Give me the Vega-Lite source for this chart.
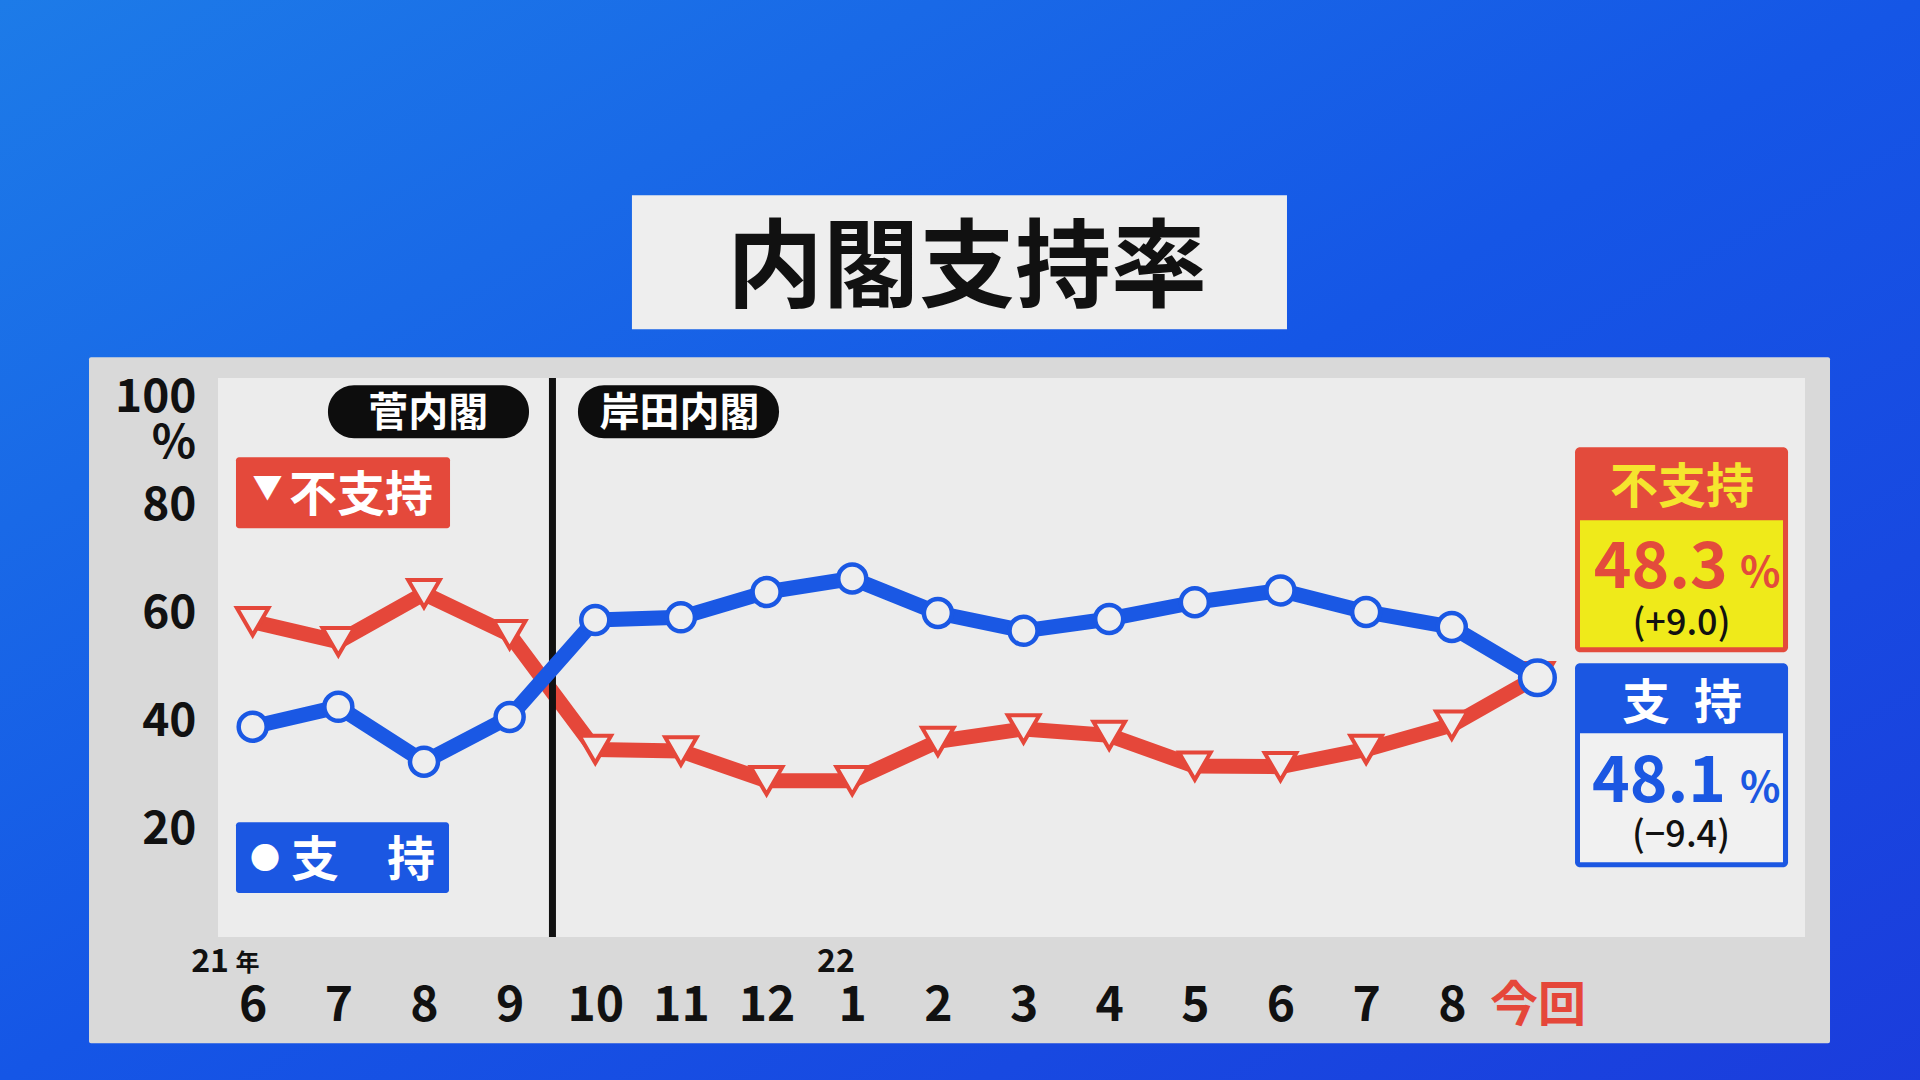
{
  "$schema": "https://vega.github.io/schema/vega-lite/v6.json",
  "width": 1587,
  "height": 559,
  "autosize": "none",
  "padding": {"left": 218, "top": 378, "right": 115, "bottom": 143},
  "background": "#1656e4",
  "config": {
    "font": "Noto Sans CJK JP",
    "view": {"stroke": null},
    "axis": {
      "grid": false,
      "domain": false,
      "ticks": false,
      "tickSize": 0,
      "labelFont": "Noto Sans CJK JP",
      "labelFontWeight": "bold",
      "labelColor": "#111111",
      "labelOverlap": false,
      "labelFlush": false,
      "labelBound": false
    },
    "text": {"font": "Noto Sans CJK JP", "fontWeight": "bold"}
  },
  "datasets": {
    "polls": [
      {"m": 0, "month": "6", "approve": 39.0, "disapprove": 58.5},
      {"m": 1, "month": "7", "approve": 42.7, "disapprove": 54.8},
      {"m": 2, "month": "8", "approve": 32.5, "disapprove": 63.7},
      {"m": 3, "month": "9", "approve": 40.8, "disapprove": 56.1},
      {"m": 4, "month": "10", "approve": 58.8, "disapprove": 34.8},
      {"m": 5, "month": "11", "approve": 59.3, "disapprove": 34.5},
      {"m": 6, "month": "12", "approve": 64.0, "disapprove": 29.0},
      {"m": 7, "month": "1", "approve": 66.5, "disapprove": 29.0},
      {"m": 8, "month": "2", "approve": 60.1, "disapprove": 36.3},
      {"m": 9, "month": "3", "approve": 56.8, "disapprove": 38.6},
      {"m": 10, "month": "4", "approve": 59.0, "disapprove": 37.4},
      {"m": 11, "month": "5", "approve": 62.1, "disapprove": 31.7},
      {"m": 12, "month": "6", "approve": 64.3, "disapprove": 31.6},
      {"m": 13, "month": "7", "approve": 60.3, "disapprove": 34.8},
      {"m": 14, "month": "8", "approve": 57.5, "disapprove": 39.3},
      {"m": 15, "month": "今回", "approve": 48.1, "disapprove": 48.3}
    ]
  },
  "layer": [
    {
      "data": {"name": "polls"},
      "mark": {"type": "line", "color": "#e5473a", "strokeWidth": 15, "opacity": 0},
      "encoding": {
        "x": {
          "field": "m",
          "type": "quantitative",
          "title": null,
          "scale": {"domain": [-0.405, 18.124], "nice": false, "zero": false},
          "axis": {
            "title": null,
            "zindex": 2,
            "values": [0, 1, 2, 3, 4, 5, 6, 7, 8, 9, 10, 11, 12, 13, 14, 15],
            "labelExpr": "['6','7','8','9','10','11','12','1','2','3','4','5','6','7','8','今回'][datum.value]",
            "labelFontSize": 48,
            "labelBaseline": "alphabetic",
            "labelPadding": 83,
            "labelColor": {"condition": {"test": "datum.value == 15", "value": "#e5473a"}, "value": "#111111"}
          }
        },
        "y": {
          "field": "disapprove",
          "type": "quantitative",
          "title": null,
          "scale": {"domain": [0, 103.7], "nice": false, "zero": false},
          "axis": {
            "title": null,
            "zindex": 2,
            "values": [20, 40, 60, 80, 100],
            "labelFontSize": 46,
            "labelBaseline": "middle",
            "labelPadding": 22
          }
        }
      }
    },
    {
      "data": {"values": [{}]},
      "mark": {
        "type": "rect",
        "color": {
          "gradient": "linear", "x1": 0, "y1": 0, "x2": 1, "y2": 1,
          "stops": [
            {"offset": 0, "color": "#1d7ce8"},
            {"offset": 0.5, "color": "#1556e6"},
            {"offset": 1, "color": "#1b3cdc"}
          ]
        }
      },
      "encoding": {
        "x": {"datum": -3.2, "type": "quantitative"},
        "x2": {"datum": 19.7},
        "y": {"datum": 176, "type": "quantitative"},
        "y2": {"datum": -29}
      }
    },
    {
      "data": {"values": [{}]},
      "mark": {"type": "rect", "color": "#d9d9d9", "cornerRadius": 2},
      "encoding": {
        "x": {"datum": -1.911},
        "x2": {"datum": 18.416},
        "y": {"datum": 107.57},
        "y2": {"datum": -19.7}
      }
    },
    {
      "data": {"values": [{}]},
      "mark": {"type": "rect", "color": "#ececec"},
      "encoding": {
        "x": {"datum": -0.405},
        "x2": {"datum": 18.124},
        "y": {"datum": 103.7},
        "y2": {"datum": 0}
      }
    },
    {
      "data": {"values": [{}]},
      "mark": {"type": "rect", "color": "#eeeeee"},
      "encoding": {
        "x": {"datum": 4.428},
        "x2": {"datum": 12.076},
        "y": {"datum": 137.62},
        "y2": {"datum": 112.76}
      }
    },
    {
      "data": {"values": [{"t": "内閣支持率"}]},
      "mark": {"type": "text", "fontSize": 96, "color": "#111111", "align": "center", "baseline": "middle"},
      "encoding": {
        "x": {"datum": 8.34},
        "y": {"datum": 123.69},
        "text": {"field": "t"}
      }
    },
    {
      "data": {"values": [{}]},
      "mark": {"type": "rect", "color": "#0d0d0d", "cornerRadius": 26},
      "encoding": {
        "x": {"datum": 0.879},
        "x2": {"datum": 3.226},
        "y": {"datum": 102.37},
        "y2": {"datum": 92.54}
      }
    },
    {
      "data": {"values": [{}]},
      "mark": {"type": "rect", "color": "#0d0d0d", "cornerRadius": 26},
      "encoding": {
        "x": {"datum": 3.798},
        "x2": {"datum": 6.145},
        "y": {"datum": 102.37},
        "y2": {"datum": 92.54}
      }
    },
    {
      "data": {"values": [{"t": "菅内閣"}]},
      "mark": {"type": "text", "fontSize": 40, "color": "#ffffff", "align": "center", "baseline": "middle"},
      "encoding": {
        "x": {"datum": 2.05},
        "y": {"datum": 96.96},
        "text": {"field": "t"}
      }
    },
    {
      "data": {"values": [{"t": "岸田内閣"}]},
      "mark": {"type": "text", "fontSize": 40, "color": "#ffffff", "align": "center", "baseline": "middle"},
      "encoding": {
        "x": {"datum": 4.983},
        "y": {"datum": 96.96},
        "text": {"field": "t"}
      }
    },
    {
      "data": {"values": [{}]},
      "mark": {"type": "rect", "color": "#e4493b", "cornerRadius": 3},
      "encoding": {
        "x": {"datum": -0.195},
        "x2": {"datum": 2.304},
        "y": {"datum": 89.02},
        "y2": {"datum": 75.84}
      }
    },
    {
      "data": {"values": [{"t": "▼"}]},
      "mark": {"type": "text", "fontSize": 30, "color": "#ffffff", "align": "center", "baseline": "middle"},
      "encoding": {
        "x": {"datum": 0.172},
        "y": {"datum": 83.2},
        "text": {"field": "t"}
      }
    },
    {
      "data": {"values": [{"t": "不支持"}]},
      "mark": {"type": "text", "fontSize": 48, "color": "#ffffff", "align": "center", "baseline": "middle"},
      "encoding": {
        "x": {"datum": 1.265},
        "y": {"datum": 81.63},
        "text": {"field": "t"}
      }
    },
    {
      "data": {"values": [{}]},
      "mark": {"type": "rect", "color": "#1b57e2", "cornerRadius": 3},
      "encoding": {
        "x": {"datum": -0.195},
        "x2": {"datum": 2.292},
        "y": {"datum": 21.3},
        "y2": {"datum": 8.15}
      }
    },
    {
      "data": {"values": [{"t": "●"}]},
      "mark": {"type": "text", "fontSize": 30, "color": "#ffffff", "align": "center", "baseline": "middle"},
      "encoding": {
        "x": {"datum": 0.144},
        "y": {"datum": 14.3},
        "text": {"field": "t"}
      }
    },
    {
      "data": {"values": [{"t": "支　持"}]},
      "mark": {"type": "text", "fontSize": 48, "color": "#ffffff", "align": "center", "baseline": "middle"},
      "encoding": {
        "x": {"datum": 1.288},
        "y": {"datum": 13.88},
        "text": {"field": "t"}
      }
    },
    {
      "data": {"values": [{}]},
      "mark": {"type": "rect", "color": "#e34b3c", "cornerRadius": 5},
      "encoding": {
        "x": {"datum": 15.439},
        "x2": {"datum": 17.926},
        "y": {"datum": 90.87},
        "y2": {"datum": 52.84}
      }
    },
    {
      "data": {"values": [{}]},
      "mark": {"type": "rect", "color": "#efea1a"},
      "encoding": {
        "x": {"datum": 15.497},
        "x2": {"datum": 17.867},
        "y": {"datum": 77.33},
        "y2": {"datum": 53.77}
      }
    },
    {
      "data": {"values": [{"t": "不支持"}]},
      "mark": {"type": "text", "fontSize": 48, "color": "#f5e52e", "align": "center", "baseline": "middle"},
      "encoding": {
        "x": {"datum": 16.688},
        "y": {"datum": 83.02},
        "text": {"field": "t"}
      }
    },
    {
      "data": {"values": [{"t": "48.3"}]},
      "mark": {"type": "text", "fontSize": 64, "color": "#e34b3c", "align": "center", "baseline": "alphabetic"},
      "encoding": {
        "x": {"datum": 16.44},
        "y": {"datum": 64.71},
        "text": {"field": "t"}
      }
    },
    {
      "data": {"values": [{"t": "%"}]},
      "mark": {"type": "text", "fontSize": 42, "color": "#e34b3c", "align": "center", "baseline": "alphabetic"},
      "encoding": {
        "x": {"datum": 17.6},
        "y": {"datum": 64.9},
        "text": {"field": "t"}
      }
    },
    {
      "data": {"values": [{"t": "(+9.0)"}]},
      "mark": {"type": "text", "fontSize": 36, "fontWeight": 500, "color": "#111111", "align": "center", "baseline": "middle"},
      "encoding": {
        "x": {"datum": 16.682},
        "y": {"datum": 58.14},
        "text": {"field": "t"}
      }
    },
    {
      "data": {"values": [{}]},
      "mark": {"type": "rect", "color": "#1b57e2", "cornerRadius": 5},
      "encoding": {
        "x": {"datum": 15.439},
        "x2": {"datum": 17.926},
        "y": {"datum": 50.8},
        "y2": {"datum": 12.95}
      }
    },
    {
      "data": {"values": [{}]},
      "mark": {"type": "rect", "color": "#f1f1f1"},
      "encoding": {
        "x": {"datum": 15.497},
        "x2": {"datum": 17.867},
        "y": {"datum": 37.81},
        "y2": {"datum": 13.88}
      }
    },
    {
      "data": {"values": [{"t": "支\u2002持"}]},
      "mark": {"type": "text", "fontSize": 48, "color": "#ffffff", "align": "center", "baseline": "middle"},
      "encoding": {
        "x": {"datum": 16.688},
        "y": {"datum": 43.04},
        "text": {"field": "t"}
      }
    },
    {
      "data": {"values": [{"t": "48.1"}]},
      "mark": {"type": "text", "fontSize": 64, "color": "#1b57e2", "align": "center", "baseline": "alphabetic"},
      "encoding": {
        "x": {"datum": 16.42},
        "y": {"datum": 25.01},
        "text": {"field": "t"}
      }
    },
    {
      "data": {"values": [{"t": "%"}]},
      "mark": {"type": "text", "fontSize": 42, "color": "#1b57e2", "align": "center", "baseline": "alphabetic"},
      "encoding": {
        "x": {"datum": 17.6},
        "y": {"datum": 25.01},
        "text": {"field": "t"}
      }
    },
    {
      "data": {"values": [{"t": "(−9.4)"}]},
      "mark": {"type": "text", "fontSize": 36, "fontWeight": 500, "color": "#111111", "align": "center", "baseline": "middle"},
      "encoding": {
        "x": {"datum": 16.676},
        "y": {"datum": 18.81},
        "text": {"field": "t"}
      }
    },
    {
      "data": {"values": [{"t": "%"}]},
      "mark": {"type": "text", "fontSize": 46, "color": "#111111", "align": "right", "baseline": "middle"},
      "encoding": {
        "x": {"datum": -0.662},
        "y": {"datum": 91.5},
        "text": {"field": "t"}
      }
    },
    {
      "data": {"values": [{"t": "21"}]},
      "mark": {"type": "text", "fontSize": 32, "color": "#111111", "align": "right", "baseline": "middle"},
      "encoding": {
        "x": {"datum": -0.277},
        "y": {"datum": -4.6},
        "text": {"field": "t"}
      }
    },
    {
      "data": {"values": [{"t": "年"}]},
      "mark": {"type": "text", "fontSize": 24, "color": "#111111", "align": "left", "baseline": "middle"},
      "encoding": {
        "x": {"datum": -0.2},
        "y": {"datum": -4.97},
        "text": {"field": "t"}
      }
    },
    {
      "data": {"values": [{"t": "22"}]},
      "mark": {"type": "text", "fontSize": 32, "color": "#111111", "align": "center", "baseline": "middle"},
      "encoding": {
        "x": {"datum": 6.81},
        "y": {"datum": -4.6},
        "text": {"field": "t"}
      }
    },
    {
      "data": {"name": "polls"},
      "mark": {"type": "line", "color": "#e5473a", "strokeWidth": 15, "strokeJoin": "round", "strokeCap": "round"},
      "encoding": {
        "x": {"field": "m", "type": "quantitative"},
        "y": {"field": "disapprove", "type": "quantitative"}
      }
    },
    {
      "data": {"name": "polls"},
      "mark": {"type": "point", "shape": "triangle-down", "size": 1000, "fill": "#eeeeee", "stroke": "#e5473a", "strokeWidth": 4, "opacity": 1, "fillOpacity": 1},
      "encoding": {
        "x": {"field": "m", "type": "quantitative"},
        "y": {"field": "disapprove", "type": "quantitative"}
      }
    },
    {
      "data": {"values": [{}]},
      "mark": {"type": "rule", "color": "#111111", "strokeWidth": 7},
      "encoding": {
        "x": {"datum": 3.5},
        "y": {"datum": 0},
        "y2": {"datum": 103.7}
      }
    },
    {
      "data": {"name": "polls"},
      "mark": {"type": "line", "color": "#1a58e4", "strokeWidth": 15, "strokeJoin": "round", "strokeCap": "round"},
      "encoding": {
        "x": {"field": "m", "type": "quantitative"},
        "y": {"field": "approve", "type": "quantitative"}
      }
    },
    {
      "data": {"name": "polls"},
      "mark": {"type": "point", "shape": "circle", "fill": "#eeeeee", "stroke": "#1a58e4", "strokeWidth": 4.5, "opacity": 1, "fillOpacity": 1},
      "encoding": {
        "x": {"field": "m", "type": "quantitative"},
        "y": {"field": "approve", "type": "quantitative"},
        "size": {"condition": {"test": "datum.m == 15", "value": 1200}, "value": 784}
      }
    }
  ]
}
